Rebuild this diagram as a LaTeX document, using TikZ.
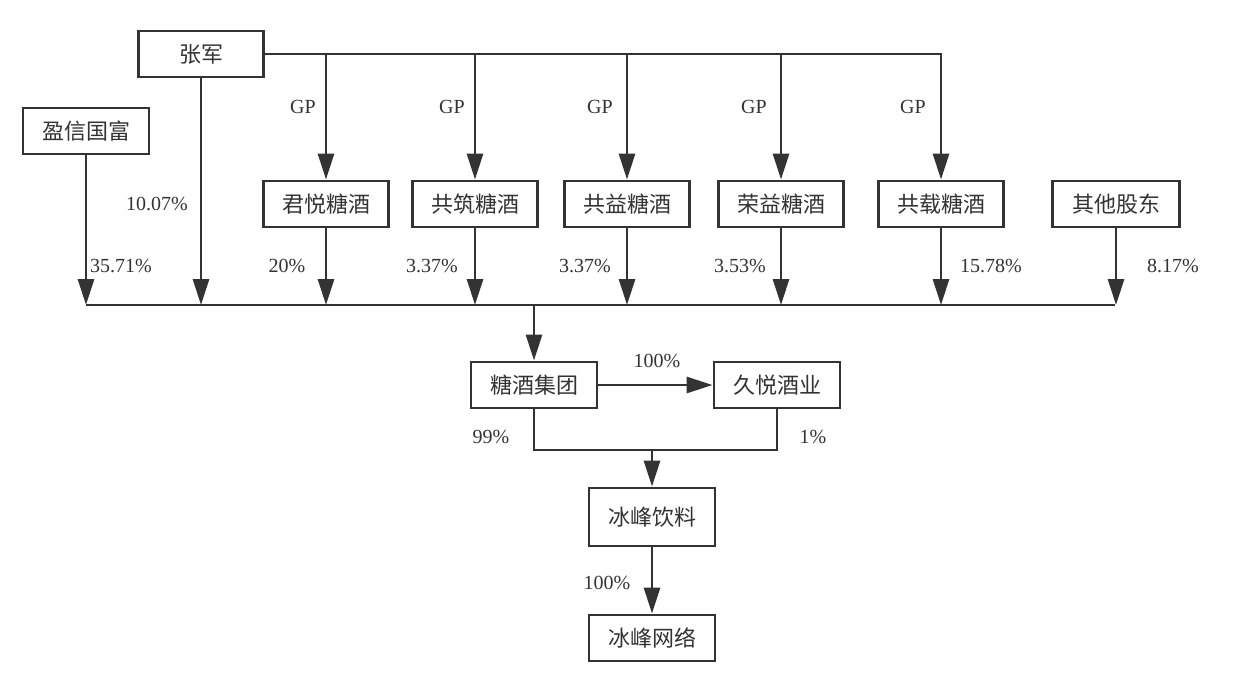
\documentclass[tikz,border=0pt]{standalone}
\usepackage{fontspec}
\setmainfont{Liberation Serif}
\newfontfamily\cjk{Noto Sans CJK SC}
\usetikzlibrary{arrows.meta}
\definecolor{ink}{HTML}{333333}
\tikzset{
  ent/.style={draw=ink, line width=2.9pt, minimum width=125pt, minimum height=46pt,
    inner sep=0pt, font=\cjk\fontsize{22}{24}\selectfont, text=ink},
  arr/.style={draw=ink, line width=2.9pt, -{Triangle[width=16pt,length=26pt]}},
  ln/.style={draw=ink, line width=2.9pt},
  lab/.style={font=\fontsize{20}{22}\selectfont, text=ink, inner sep=0pt}
}
\begin{document}
\begin{tikzpicture}[x=1pt,y=-1pt]
\useasboundingbox[fill=white] (0,0) rectangle (1246,672);
% nodes
\node[ent] (zj) at (201,54) {张军};
\node[ent, minimum width=126pt] (yx) at (86,131) {盈信国富};
\node[ent] (jy) at (326,204) {君悦糖酒};
\node[ent] (gzhu) at (475,204) {共筑糖酒};
\node[ent] (gyi) at (627,204) {共益糖酒};
\node[ent] (ryi) at (781,204) {荣益糖酒};
\node[ent] (gzai) at (941,204) {共载糖酒};
\node[ent, minimum width=127pt] (qt) at (1116,204) {其他股东};
\node[ent, minimum width=126pt] (tj) at (534,385) {糖酒集团};
\node[ent, minimum width=126pt] (jyj) at (777,385) {久悦酒业};
\node[ent, minimum width=126pt, minimum height=58pt] (bfy) at (652,517) {冰峰饮料};
\node[ent, minimum width=126pt] (bfw) at (652,638) {冰峰网络};
% bus coordinates
\coordinate (busL) at (86,305);
\coordinate (busR) at (1115,305);
\coordinate (busT) at (534,305);
\coordinate (mrg) at (652,450);
% top GP line
\draw[arr] (zj.east) -| (gzai.north);
\foreach \n in {jy,gzhu,gyi,ryi}{
  \draw[arr] (\n.north |- zj.east) -- (\n.north);
}
% drops to bus
\draw[ln] (busL) -- (busR);
\draw[arr] (yx.south) -- (yx.south |- busL);
\draw[arr] (zj.south) -- (zj.south |- busL);
\foreach \n in {jy,gzhu,gyi,ryi,gzai,qt}{
  \draw[arr] (\n.south) -- (\n.south |- busL);
}
\draw[arr] (busT) -- (tj.north);
\draw[arr] (tj.east) -- (jyj.west);
\draw[ln] (tj.south) |- (mrg) -| (jyj.south);
\draw[arr] (mrg) -- (bfy.north);
\draw[arr] (bfy.south) -- (bfw.north);
% labels
\foreach \x in {303,452,600,754,913}{
  \node[lab] at (\x,107) {GP};
}
\node[lab] at (157,204) {10.07\%};
\node[lab] at (121,266) {35.71\%};
\node[lab] at (287,266) {20\%};
\node[lab] at (432,266) {3.37\%};
\node[lab] at (585,266) {3.37\%};
\node[lab] at (740,266) {3.53\%};
\node[lab] at (991,266) {15.78\%};
\node[lab] at (1173,266) {8.17\%};
\node[lab] at (657,361) {100\%};
\node[lab] at (491,437) {99\%};
\node[lab] at (813,437) {1\%};
\node[lab] at (607,583) {100\%};
\end{tikzpicture}
\end{document}
